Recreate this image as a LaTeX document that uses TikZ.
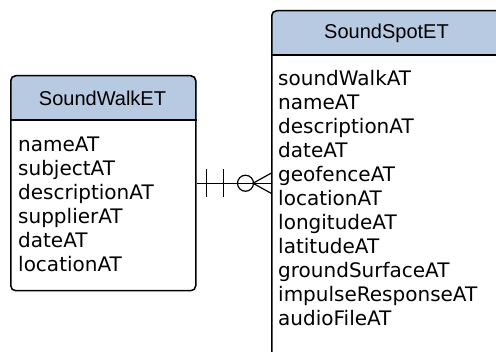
\documentclass[tikz,border=0pt]{standalone}
\usepackage{fontspec}
\usetikzlibrary{backgrounds}
\newfontfamily\attrfont{DejaVu Sans}
\newfontfamily\titlefont{Liberation Sans}
\definecolor{hdrblue}{RGB}{184,201,226}

\begin{document}
\begin{tikzpicture}[x=1pt,y=-1pt,
    entity/.style={draw,line width=1.5pt,rounded corners=5pt,anchor=north west,inner sep=0pt},
    etitle/.style={font=\titlefont\fontsize{20}{24}\selectfont,anchor=base,inner sep=0pt},
    attr/.style={font=\attrfont\fontsize{20}{24}\selectfont,anchor=base west,inner sep=0pt}]

    \useasboundingbox (0,0) rectangle (496,352);

    % walk
    \node[entity,minimum width=185pt,minimum height=215pt] (walk) at (10,75) {};
    \path (10,120) coordinate (walksep);
    \begin{scope}[on background layer]
      \fill[hdrblue] (walk.west |- walksep) [rounded corners=5pt] -- (walk.north west)
        -- (walk.north east) [sharp corners] -- (walk.east |- walksep) -- cycle;
    \end{scope}
    \draw[line width=1.5pt] (walk.west |- walksep) -- (walk.east |- walksep);
    \node[etitle] (walkname) at (102.5,106) {SoundWalkET};
    \foreach \a [count=\i] in {nameAT,subjectAT,descriptionAT,supplierAT,dateAT,locationAT}
    { \node[attr] (walk\i) at (18,128+24*\i) {\a}; }

    % spot
    \node[entity,minimum width=236pt,minimum height=347pt] (spot) at (271,10) {};
    \path (271,55) coordinate (spotsep);
    \begin{scope}[on background layer]
      \fill[hdrblue] (spot.west |- spotsep) [rounded corners=5pt] -- (spot.north west)
        -- (spot.north east) [sharp corners] -- (spot.east |- spotsep) -- cycle;
    \end{scope}
    \draw[line width=1.5pt] (spot.west |- spotsep) -- (spot.east |- spotsep);
    \node[etitle] (spotname) at (386.5,39) {SoundSpotET};
    \foreach \a [count=\i] in {soundWalkAT,nameAT,descriptionAT,dateAT,geofenceAT,locationAT,
      longitudeAT,latitudeAT,groundSurfaceAT,impulseResponseAT,audioFileAT}
    { \node[attr] (spot\i) at (278,62+24*\i) {\a}; }

    % one walk -- many spots
    \path (spot.west |- walk.east) coordinate (crow);
    \draw[line width=1.2pt] (walk.east) -- (crow);
    \foreach \s in {10,27}
    { \draw[line width=1.2pt] ([xshift=\s pt,yshift=-14pt]walk.east) -- ([xshift=\s pt,yshift=14pt]walk.east); }
    \draw[line width=1.2pt] ([xshift=49pt]walk.east) circle (8pt);
    \draw[line width=1.2pt] ([yshift=-10pt]crow) -- ([xshift=-18pt]crow) -- ([yshift=10pt]crow);

\end{tikzpicture}
\end{document}
